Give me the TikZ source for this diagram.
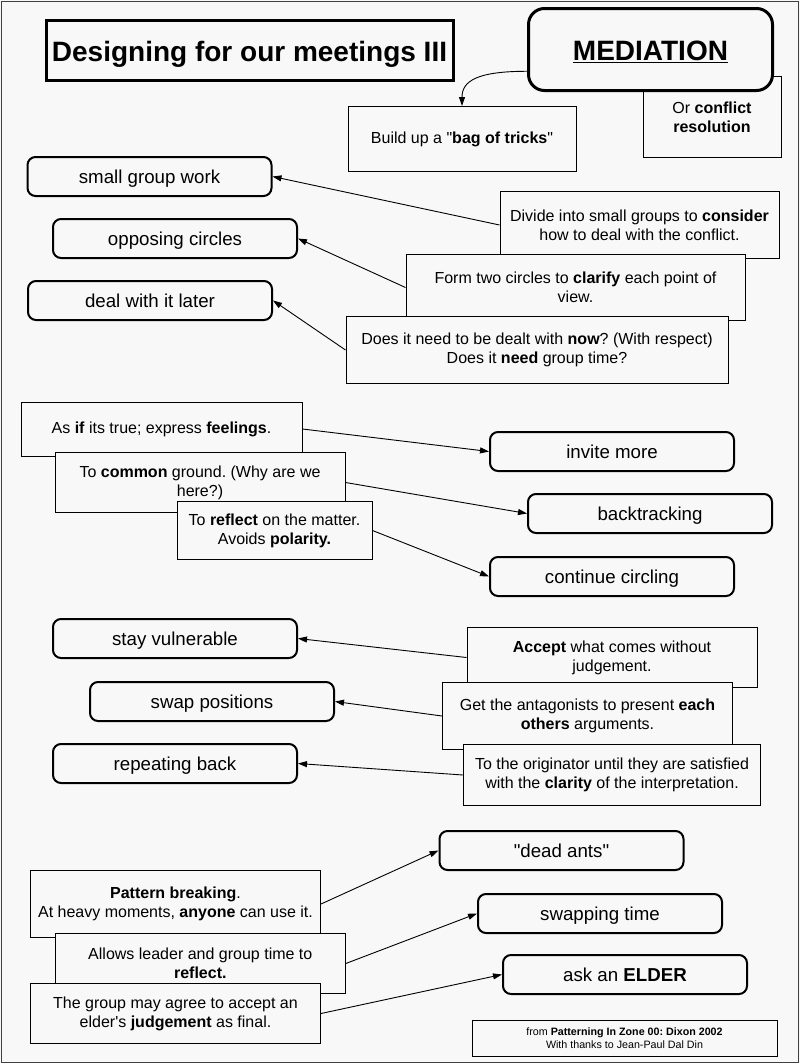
\documentclass[tikz,border=0pt]{standalone}
\usepackage{fontspec}
\setmainfont{Liberation Sans}[Ligatures=TeXOff]
\usetikzlibrary{arrows.meta}
\definecolor{paper}{HTML}{F8F8F8}
\definecolor{frameline}{HTML}{404040}
\frenchspacing

\begin{document}
\begin{tikzpicture}[x=1pt, y=-1pt,
    roundbox/.style={draw, fill=paper, line width=2pt, rounded corners=8pt,
      minimum width=244pt, minimum height=39pt, inner sep=0pt,
      text height=17.5pt, text depth=3.9pt,
      font=\fontsize{18.7}{22}\selectfont},
    notebox/.style={draw, fill=paper, line width=1pt, align=center, inner sep=0pt,
      font=\fontsize{16}{19}\selectfont},
    pointer/.style={-{Triangle[length=9pt,width=6pt]}, line width=0.9pt}]

      \useasboundingbox (0,0) rectangle (800,1063);
      \fill[paper] (0,0) rectangle (800,1063);
      \draw[frameline, line width=1pt] (1,1) rectangle (798.5,1062);

      % heading
      \node[draw, line width=3pt, minimum width=407pt, minimum height=60pt, inner sep=0pt,
        text height=22pt, text depth=0pt,
        font=\fontsize{28}{32}\selectfont\bfseries] (title) at (249.5,50) {Designing for our meetings III};
      \node[notebox, minimum width=138pt, minimum height=81pt] (conflict) at (712,117)
        {Or \textbf{conflict}\\\textbf{resolution}};
      \node[draw, fill=paper, line width=3pt, rounded corners=16pt, minimum width=244pt,
        minimum height=82pt, inner sep=0pt, text height=22.4pt, text depth=0pt,
        font=\fontsize{28}{32}\selectfont\bfseries]
        (mediation) at (650.5,49.5) {\underline{MEDIATION}};
      \node[notebox, minimum width=228pt, minimum height=65pt] (bag) at (462,139)
        {Build up a "\textbf{bag of tricks}"};
      \draw[pointer] (mediation.190) .. controls +(-50,0) and +(0,-25) .. (bag.north);

      % first group
      \node[roundbox] (smallgroup) at (149.5,176.5) {small group work};
      \node[roundbox] (opposing) at (175,238.5) {opposing circles};
      \node[roundbox] (dealater) at (150,300.5) {deal with it later};
      \node[notebox, minimum width=279pt, minimum height=67pt] (divide) at (639.5,225)
        {Divide into small groups to \textbf{consider}\\how to deal with the conflict.};
      \node[notebox, minimum width=339pt, minimum height=66pt] (formcircles) at (575.5,287.5)
        {Form two circles to \textbf{clarify} each point of\\view.};
      \node[notebox, minimum width=382pt, minimum height=67pt] (needtime) at (537,350)
        {Does it need to be dealt with \textbf{now}? (With respect)\\Does it \textbf{need} group time?};
      \draw[pointer] (divide.west) -- (smallgroup.east);
      \draw[pointer] (formcircles.west) -- (opposing.east);
      \draw[pointer] (needtime.west) -- (dealater.east);

      % second group
      \node[notebox, minimum width=281pt, minimum height=54pt] (asif) at (161.5,429)
        {As \textbf{if} its true; express \textbf{feelings}.};
      \node[notebox, minimum width=290pt, minimum height=60pt] (common) at (200,482.5)
        {To \textbf{common} ground. (Why are we\\here?)};
      \node[notebox, minimum width=195pt, minimum height=58pt] (reflect) at (274.5,530.5)
        {To \textbf{reflect} on the matter.\\Avoids \textbf{polarity.}};
      \node[roundbox] (invite) at (612,451.5) {invite more};
      \node[roundbox] (backtrack) at (650,513.5) {backtracking};
      \node[roundbox] (circling) at (612,576.5) {continue circling};
      \draw[pointer] (asif.east) -- (invite.west);
      \draw[pointer] (common.east) -- (backtrack.west);
      \draw[pointer] (reflect.east) -- (circling.west);

      % third group
      \node[roundbox] (vulnerable) at (175,638.5) {stay vulnerable};
      \node[roundbox] (swappos) at (212,701.5) {swap positions};
      \node[roundbox] (repeatback) at (175,763.5) {repeating back};
      \node[notebox, minimum width=290pt, minimum height=60pt] (accept) at (612,657.5)
        {\textbf{Accept} what comes without\\judgement.};
      \node[notebox, minimum width=290pt, minimum height=67pt] (antagonists) at (587.5,716)
        {Get the antagonists to present \textbf{each}\\\textbf{others} arguments.};
      \node[notebox, minimum width=297pt, minimum height=61pt] (originator) at (612,775)
        {To the originator until they are satisfied\\with the \textbf{clarity} of the interpretation.};
      \draw[pointer] (accept.west) -- (vulnerable.east);
      \draw[pointer] (antagonists.west) -- (swappos.east);
      \draw[pointer] (originator.west) -- (repeatback.east);

      % fourth group
      \node[roundbox] (deadants) at (561.5,850.5) {"dead ants"};
      \node[roundbox] (swaptime) at (600,913.5) {swapping time};
      \node[roundbox] (elder) at (625,974.5) {ask an \textbf{ELDER}};
      \node[notebox, minimum width=290pt, minimum height=67pt] (pattern) at (175.5,904)
        {\textbf{Pattern breaking}.\\At heavy moments, \textbf{anyone} can use it.};
      \node[notebox, minimum width=290pt, minimum height=60pt] (allows) at (200.3,963.5)
        {Allows leader and group time to\\\textbf{reflect.}};
      \node[notebox, minimum width=290pt, minimum height=60pt] (groupmay) at (175.5,1013.5)
        {The group may agree to accept an\\elder's \textbf{judgement} as final.};
      \draw[pointer] (pattern.east) -- (deadants.west);
      \draw[pointer] (allows.east) -- (swaptime.west);
      \draw[pointer] (groupmay.east) -- (elder.west);

      \node[notebox, minimum width=305pt, minimum height=36pt, font=\fontsize{10.7}{13}\selectfont]
        (footer) at (624.5,1038) {from \textbf{Patterning In Zone 00: Dixon 2002}\\With thanks to Jean-Paul Dal Din};

    \end{tikzpicture}
\end{document}
